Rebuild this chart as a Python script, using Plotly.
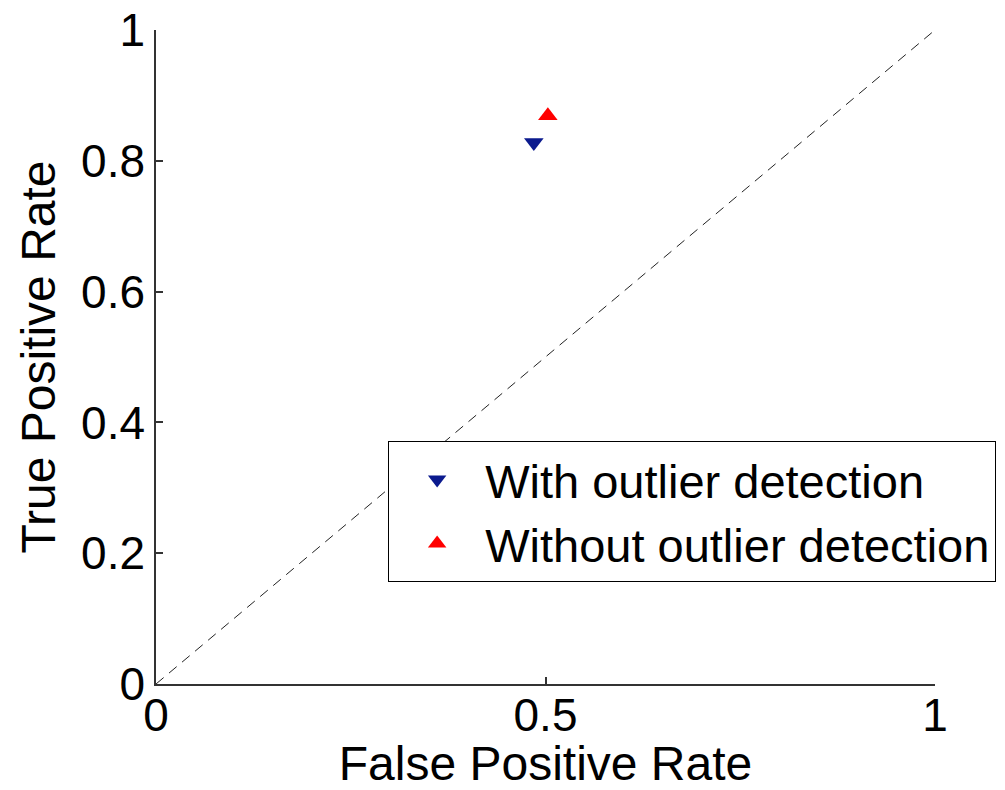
import plotly.graph_objects as go

# ROC operating points
series_names = ["With outlier detection", "Without outlier detection"]
fpr_values = [0.485, 0.503]
tpr_values = [0.828, 0.869]
marker_symbols = ["triangle-down", "triangle-up"]
marker_colors = ["#0b1a8e", "#ff0000"]

# chance line
chance_x = [0, 1]
chance_y = [0, 1]

x_ticks = [0, 0.5, 1]
x_tick_labels = ["0", "0.5", "1"]
y_ticks = [0, 0.2, 0.4, 0.6, 0.8, 1]
y_tick_labels = ["0", "0.2", "0.4", "0.6", "0.8", "1"]

FONT = "Liberation Sans, Arial, sans-serif"

fig = go.Figure()

fig.add_trace(go.Scatter(
    x=chance_x, y=chance_y, mode="lines",
    line=dict(color="#222222", width=1, dash="10px,7px"),
    showlegend=False, hoverinfo="skip",
))

for name, fx, ty, sym, col in zip(series_names, fpr_values, tpr_values,
                                  marker_symbols, marker_colors):
    fig.add_trace(go.Scatter(
        x=[fx], y=[ty], mode="markers", name=name,
        marker=dict(symbol=sym, color=col, size=17, line=dict(width=0)),
    ))

axis_common = dict(
    showline=True, linecolor="#333333", linewidth=1.5,
    ticks="inside", ticklen=7, tickcolor="#333333", tickwidth=1.5,
    showgrid=False, zeroline=False, mirror=False, automargin=False,
    tickfont=dict(family=FONT, size=46, color="black"),
)

fig.update_layout(
    width=1005, height=790,
    margin=dict(l=156, r=70, t=30, b=106, autoexpand=False),
    paper_bgcolor="white", plot_bgcolor="white",
    font=dict(family=FONT, size=48, color="black"),
    xaxis=dict(
        range=[0, 1], tickvals=x_ticks, ticktext=x_tick_labels,
        ticklabelstandoff=-10,
        title=dict(text="False Positive Rate", font=dict(family=FONT, size=48), standoff=6),
        **axis_common,
    ),
    yaxis=dict(
        range=[0, 1], tickvals=y_ticks, ticktext=y_tick_labels,
        title=dict(text="True Positive Rate", font=dict(family=FONT, size=48), standoff=10),
        **axis_common,
    ),
    legend=dict(
        x=0.298, y=0.371, xanchor="left", yanchor="top",
        bgcolor="white", bordercolor="black", borderwidth=1,
        font=dict(family=FONT, size=47, color="black"),
        itemwidth=86, tracegroupgap=0,
    ),
)

fig.write_html("out.html")
